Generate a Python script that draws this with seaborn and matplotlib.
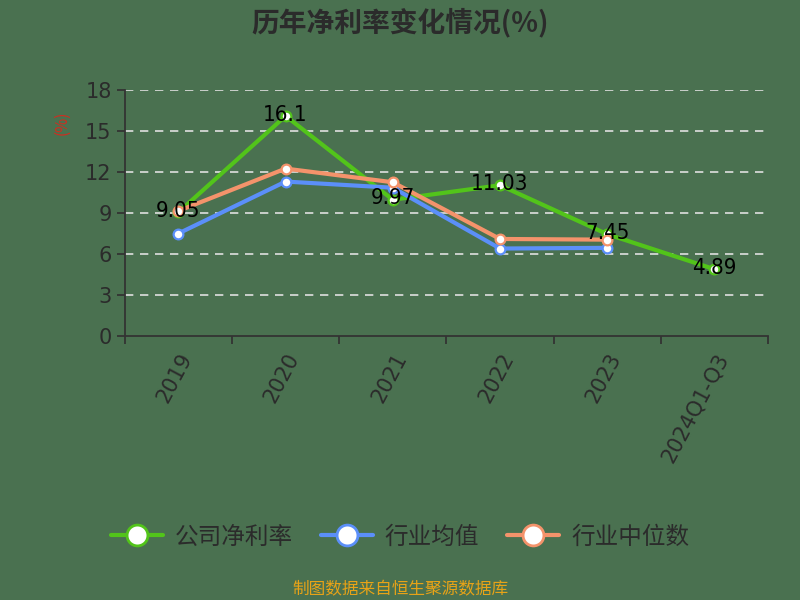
import matplotlib
matplotlib.use('Agg')
import matplotlib.pyplot as plt
import numpy as np
import pandas as pd
import seaborn as sns

# dados do gráfico
anos = ['2019', '2020', '2021', '2022', '2023', '2024Q1-Q3']
empresa = [9.05, 16.1, 9.97, 11.03, 7.45, 4.89]
media_setor = [7.5, 11.3, 10.85, 6.4, 6.45]
mediana_setor = [9.15, 12.25, 11.25, 7.1, 7.05]
series = ['公司净利率', '行业均值', '行业中位数']
cores = ['#52c41a', '#5b8ff9', '#f4936b']

bg = '#4a7150'
sns.set_theme(style='white')
plt.rcParams['font.family'] = ['Noto Sans CJK SC', 'DejaVu Sans']

linhas = []
for nome, vals in zip(series, [empresa, media_setor, mediana_setor]):
    for a, v in zip(anos, vals):
        linhas.append({'ano': a, 'valor': v, 'serie': nome})
df = pd.DataFrame(linhas)

fig = plt.figure(figsize=(8, 6), dpi=100, facecolor=bg)
ax = fig.add_axes([0.156, 0.44, 0.804, 0.41], facecolor=bg)

sns.lineplot(data=df, x='ano', y='valor', hue='serie', palette=cores,
             hue_order=series, marker='o', markersize=7, markerfacecolor='white',
             markeredgewidth=1.6, linewidth=3, sort=False, ax=ax, legend=False)
for ln, c in zip(ax.lines, cores):
    ln.set_markeredgecolor(c)

for i, v in enumerate(empresa):
    ax.text(i, v + 0.1, f'{v:g}', ha='center', va='center', fontsize=16,
            color='black', family='DejaVu Sans', stretch='condensed')

ax.set_xlim(-0.5, len(anos) - 0.5)
ax.set_ylim(0, 18)
ax.set_yticks(np.arange(0, 19, 3))
ax.set_yticklabels([str(t) for t in range(0, 19, 3)], fontsize=15, color='#2b2b2b',
                   family='DejaVu Sans')
for y in range(3, 19, 3):
    ax.axhline(y, color='#e0e0e0', linestyle=(0, (5, 4)), linewidth=1.2, zorder=0)

ax.set_xticks(range(len(anos)))
ax.set_xticklabels(anos, rotation=62, ha='right', rotation_mode='anchor',
                   fontsize=15, color='#2b2b2b', family='DejaVu Sans')
ax.set_xticks(np.arange(-0.5, len(anos)), minor=True)
ax.tick_params(axis='x', which='major', bottom=True, length=0, pad=10)
ax.tick_params(axis='x', which='minor', bottom=True, length=6, width=1.3,
               color='#333333', direction='out')
ax.tick_params(axis='y', length=6, width=1.3, color='#333333', direction='out', left=True)
ax.set_xlabel('')
ax.set_ylabel('')

for s in ['top', 'right']:
    ax.spines[s].set_visible(False)
for s in ['left', 'bottom']:
    ax.spines[s].set_color('#333333')
    ax.spines[s].set_linewidth(1.3)

fig.text(0.078, 0.795, '(%)', rotation=90, color='#d42b1e', fontsize=11,
         ha='center', va='center')
fig.text(0.5, 0.962, '历年净利率变化情况(%)', ha='center', va='center',
         fontsize=20, fontweight='bold', color='#2b2b2b')

# legenda
handles = [plt.Line2D([], [], color=c, linewidth=3, marker='o', markersize=15,
                      markerfacecolor='white', markeredgecolor=c, markeredgewidth=2)
           for c in cores]
fig.legend(handles, series, loc='center', bbox_to_anchor=(0.5, 0.105), ncol=3,
           frameon=False, fontsize=17, labelcolor='#2b2b2b', handlelength=2.2,
           columnspacing=1.2, handletextpad=0.5)

fig.text(0.5, 0.017, '制图数据来自恒生聚源数据库', ha='center', va='center',
         fontsize=12, color='#e8a317')

fig.savefig('out.png', dpi=100, facecolor=bg)
